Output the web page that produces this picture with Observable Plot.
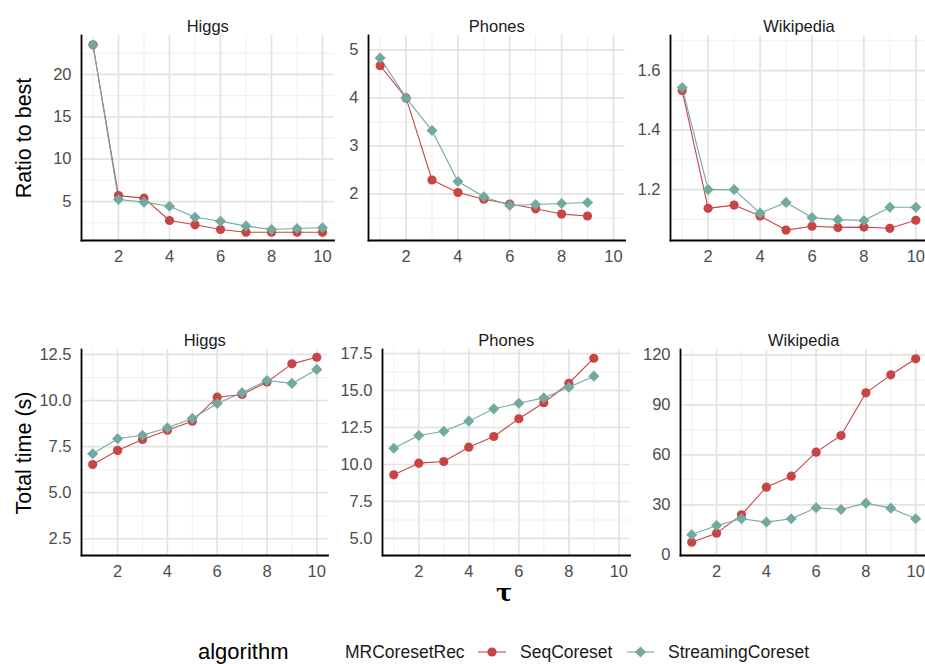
<!DOCTYPE html>
<html><head><meta charset="utf-8">
<script src="https://cdn.jsdelivr.net/npm/d3@7"></script>
<script src="https://cdn.jsdelivr.net/npm/@observablehq/plot@0.6"></script>
<style>
body{margin:0;background:#fff;}
#root{position:relative;width:925px;height:664px;overflow:hidden;background:#fff;font-family:"Liberation Sans",Arial,sans-serif;}
.abs{position:absolute;white-space:nowrap;}
</style></head><body><div id="root"></div>
<script>
// ---- data ----
const tau = [1,2,3,4,5,6,7,8,9,10];
const algorithms = ["MRCoresetRec","SeqCoreset","StreamingCoreset"];
const datasets = ["Higgs","Phones","Wikipedia"];
const xMajorTicks = [2,4,6,8,10];
const xMinorTicks = [1,3,5,7,9];

const ratioHiggsSeq    = [23.5,5.70,5.40,2.76,2.25,1.70,1.38,1.38,1.38,1.38];
const ratioHiggsStream = [23.5,5.24,4.93,4.45,3.15,2.68,2.10,1.70,1.82,1.90];
const ratioPhonesSeq    = [4.67,4.00,2.29,2.03,1.89,1.79,1.69,1.58,1.54];
const ratioPhonesStream = [4.83,4.00,3.32,2.26,1.94,1.76,1.78,1.80,1.82];
const ratioWikiSeq    = [1.533,1.137,1.148,1.111,1.064,1.077,1.073,1.074,1.070,1.097];
const ratioWikiStream = [1.543,1.200,1.200,1.121,1.157,1.106,1.099,1.096,1.141,1.141];

const timeHiggsSeq    = [6.53,7.29,7.89,8.39,8.88,10.18,10.33,11.00,11.99,12.35];
const timeHiggsStream = [7.11,7.93,8.12,8.52,9.03,9.84,10.42,11.09,10.93,11.69];
const timePhonesSeq    = [9.30,10.09,10.20,11.17,11.89,13.09,14.17,15.49,17.18];
const timePhonesStream = [11.10,11.96,12.25,12.93,13.76,14.14,14.50,15.22,15.97];
const timeWikiSeq    = [7.6,13.0,24.0,40.6,47.2,61.6,71.6,97.2,108.0,117.6];
const timeWikiStream = [12.0,17.6,21.6,19.6,21.6,28.2,27.2,31.0,28.0,21.6];

const ratioHiggsTicks = [5,10,15,20];
const ratioPhonesTicks = [2,3,4,5];
const ratioWikiTicks = [1.2,1.4,1.6];
const timeHiggsTicks = [2.5,5,7.5,10,12.5];
const timePhonesTicks = [5,7.5,10,12.5,15,17.5];
const timeWikiTicks = [0,30,60,90,120];

// ---- styles ----
const RED = "#C94545", TEAL = "#72AAA1";
const FONT = "Liberation Sans, Arial, sans-serif";
const root = document.getElementById("root");

function minorOf(ticks){
  const step = ticks[1]-ticks[0];
  const out = [];
  for (let i=-1;i<ticks.length;i++) out.push(+((ticks[0]+step*i)+step/2).toFixed(4));
  return out;
}

const panels = [
  {title:"Higgs", seq:ratioHiggsSeq, stream:ratioHiggsStream, ticks:ratioHiggsTicks, fmt:d3.format("d"),
   x0:80.5, x1:333, y0:35, y1:240, yDomain:[0.4,24.6]},
  {title:"Phones", seq:ratioPhonesSeq, stream:ratioPhonesStream, ticks:ratioPhonesTicks, fmt:d3.format("d"),
   x0:368.4, x1:625, y0:35, y1:240, yDomain:[1.03,5.3]},
  {title:"Wikipedia", seq:ratioWikiSeq, stream:ratioWikiStream, ticks:ratioWikiTicks, fmt:d3.format(".1f"),
   x0:669.6, x1:926.6, y0:35, y1:240, yDomain:[1.029,1.718]},
  {title:"Higgs", seq:timeHiggsSeq, stream:timeHiggsStream, ticks:timeHiggsTicks, fmt:d3.format(".1f"),
   x0:81.2, x1:327.7, y0:349, y1:555, yDomain:[1.59,12.77]},
  {title:"Phones", seq:timePhonesSeq, stream:timePhonesStream, ticks:timePhonesTicks, fmt:d3.format(".1f"),
   x0:382, x1:629.6, y0:349, y1:555, yDomain:[3.85,17.77]},
  {title:"Wikipedia", seq:timeWikiSeq, stream:timeWikiStream, ticks:timeWikiTicks, fmt:d3.format("d"),
   x0:679.6, x1:926, y0:349, y1:555, yDomain:[-0.4,123.2]}
];

for (const p of panels){
  const rows = [];
  p.seq.forEach((v,i)=>rows.push({tau:tau[i], value:v, algorithm:algorithms[1]}));
  p.stream.forEach((v,i)=>rows.push({tau:tau[i], value:v, algorithm:algorithms[2]}));
  const mL=60, mR=6, mT=30, mB=36;
  const plot = Plot.plot({
    width: p.x1-p.x0+mL+mR, height: p.y1-p.y0+mT+mB,
    marginLeft:mL, marginRight:mR, marginTop:mT, marginBottom:mB,
    style:{fontFamily:FONT, background:"transparent", overflow:"visible"},
    x:{domain:[0.55,10.45]},
    y:{domain:p.yDomain},
    color:{domain:[algorithms[1],algorithms[2]], range:[RED,TEAL]},
    marks:[
      Plot.gridX(xMinorTicks,{stroke:"#efefef",strokeOpacity:1,strokeWidth:1}),
      Plot.gridY(minorOf(p.ticks).filter(v=>v>p.yDomain[0]&&v<p.yDomain[1]),{stroke:"#efefef",strokeOpacity:1,strokeWidth:1}),
      Plot.gridX(xMajorTicks,{stroke:"#e3e3e3",strokeOpacity:1,strokeWidth:1.7}),
      Plot.gridY(p.ticks,{stroke:"#e3e3e3",strokeOpacity:1,strokeWidth:1.7}),
      Plot.axisX(xMajorTicks,{tickSize:0,tickPadding:10,fontSize:16.5,fill:"#4d4d4d",label:null}),
      Plot.axisY(p.ticks,{tickSize:0,tickPadding:10,fontSize:16.5,fill:"#4d4d4d",label:null,tickFormat:p.fmt}),
      Plot.frame({anchor:"left",stroke:"#000",strokeWidth:1.8}),
      Plot.frame({anchor:"bottom",stroke:"#000",strokeWidth:1.8}),
      Plot.line(rows,{x:"tau",y:"value",z:"algorithm",stroke:"algorithm",strokeWidth:1.1}),
      Plot.dot(rows.filter(d=>d.algorithm===algorithms[1]),{x:"tau",y:"value",fill:"algorithm",symbol:"circle",r:4.6}),
      Plot.dot(rows.filter(d=>d.algorithm===algorithms[2]),{x:"tau",y:"value",fill:"algorithm",symbol:"diamond2",r:5}),
      Plot.text([p.title],{frameAnchor:"top",dy:-15,fontSize:16.5,fill:"#1a1a1a"})
    ]
  });
  plot.style.position="absolute";
  plot.style.left=(p.x0-mL)+"px";
  plot.style.top=(p.y0-mT)+"px";
  root.appendChild(plot);
}

function addText(txt, css){
  const d=document.createElement("div");
  d.className="abs"; d.textContent=txt;
  Object.assign(d.style, css);
  root.appendChild(d);
  return d;
}
// axis titles
addText("Ratio to best",{left:"24px",top:"138px",fontSize:"21.5px",color:"#000",transform:"translate(-50%,-50%) rotate(-90deg)"});
addText("Total time (s)",{left:"24px",top:"453px",fontSize:"21.5px",color:"#000",transform:"translate(-50%,-50%) rotate(-90deg)"});
addText("τ",{left:"504px",top:"592px",fontSize:"24px",fontWeight:"bold",fontFamily:"DejaVu Serif, serif",color:"#000",transform:"translate(-50%,-50%)"});

// legend
addText("algorithm",{left:"198px",top:"652px",fontSize:"22px",color:"#000",transform:"translateY(-50%)"});
const legendLabels = [
  {name:algorithms[0], left:345},
  {name:algorithms[1], left:520, key:{x0:478,x1:506,color:RED,symbol:"circle"}},
  {name:algorithms[2], left:668, key:{x0:627,x1:654,color:TEAL,symbol:"diamond"}}
];
for (const l of legendLabels){
  addText(l.name,{left:l.left+"px",top:"652px",fontSize:"17.5px",color:"#1a1a1a",transform:"translateY(-50%)"});
  if (l.key){
    const w=l.key.x1-l.key.x0;
    const svg=d3.create("svg").attr("width",w).attr("height",20)
      .style("position","absolute").style("left",l.key.x0+"px").style("top","642px");
    svg.append("line").attr("x1",0).attr("x2",w).attr("y1",10).attr("y2",10).attr("stroke",l.key.color).attr("stroke-width",1.1);
    if (l.key.symbol==="circle") svg.append("circle").attr("cx",w/2).attr("cy",10).attr("r",4.6).attr("fill",l.key.color);
    else svg.append("path").attr("d",d3.symbol(d3.symbolDiamond2, Math.PI*25)()).attr("transform",`translate(${w/2},10)`).attr("fill",l.key.color);
    root.appendChild(svg.node());
  }
}
</script></body></html>
